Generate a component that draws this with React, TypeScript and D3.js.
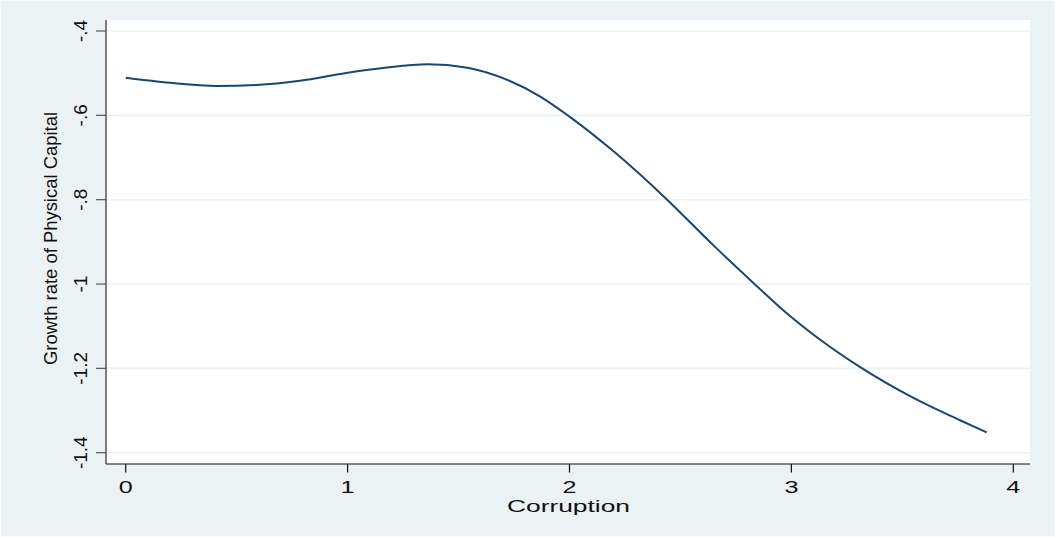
import React from "react";
import * as d3 from "d3";

const corruption = [0, 0.2, 0.41, 0.59, 0.785, 1.0, 1.16, 1.36, 1.54, 1.72, 1.87, 2.0, 2.2, 2.44, 2.65, 2.83, 2.95, 3.13, 3.31, 3.55, 3.76, 3.88];
const growth = [-0.511, -0.523, -0.5305, -0.528, -0.518, -0.499, -0.488, -0.479, -0.487, -0.516, -0.556, -0.603, -0.686, -0.8, -0.909, -0.998, -1.056, -1.132, -1.197, -1.27, -1.323, -1.352];
const xTicks = [0, 1, 2, 3, 4];
const xTickLabels = ["0", "1", "2", "3", "4"];
const yTicks = [-0.4, -0.6, -0.8, -1.0, -1.2, -1.4];
const yTickLabels = ["-.4", "-.6", "-.8", "-1", "-1.2", "-1.4"];
const xTitle = "Corruption";
const yTitle = "Growth rate of Physical Capital";

const W = 1055;
const H = 537;
const plot = { left: 106, right: 1030, top: 20, bottom: 464 };

export default function App() {
  const x = d3.scaleLinear().domain([0, 4]).range([125.7, 1013.3]);
  const y = d3.scaleLinear().domain([-1.4, -0.4]).range([452.7, 31]);
  const pts = corruption.map((c, i) => [c, growth[i]] as [number, number]);
  const line = d3
    .line<[number, number]>()
    .x((d) => x(d[0]))
    .y((d) => y(d[1]))
    .curve(d3.curveMonotoneX);
  const font = "'Liberation Sans', Arial, Helvetica, sans-serif";

  return (
    <svg
      width={W}
      height={H}
      style={{ position: "absolute", left: 0, top: 0, display: "block" }}
      fontFamily={font}
    >
      <rect x={0} y={0} width={W} height={H} fill="#EAF2F3" />
      <rect x={0.5} y={0.5} width={W - 1} height={H - 1} fill="none" stroke="#F6FAFA" strokeWidth={1} />
      <rect
        x={plot.left}
        y={plot.top}
        width={plot.right - plot.left}
        height={plot.bottom - plot.top}
        fill="#FFFFFF"
      />
      {yTicks.map((t) => (
        <line
          key={"g" + t}
          x1={plot.left}
          x2={plot.right}
          y1={y(t)}
          y2={y(t)}
          stroke="#EAF2F3"
          strokeWidth={1.6}
        />
      ))}
      <path d={line(pts) || ""} fill="none" stroke="#1A476F" strokeWidth={2} />
      <line x1={plot.left} x2={plot.left} y1={plot.top} y2={plot.bottom} stroke="#2a2a2a" strokeWidth={1.2} />
      <line x1={plot.left} x2={plot.right} y1={plot.bottom} y2={plot.bottom} stroke="#111" strokeWidth={1.2} />
      {yTicks.map((t, i) => (
        <g key={"yt" + t}>
          <line x1={96} x2={plot.left} y1={y(t)} y2={y(t)} stroke="#555" strokeWidth={1.2} />
          <text
            transform={`translate(87,${y(t)}) rotate(-90)`}
            textAnchor="middle"
            fontSize={19}
            fill="#111"
          >
            {yTickLabels[i]}
          </text>
        </g>
      ))}
      {xTicks.map((t, i) => (
        <g key={"xt" + t}>
          <line x1={x(t)} x2={x(t)} y1={plot.bottom} y2={472.5} stroke="#111" strokeWidth={1.2} />
          <text
            x={x(t)}
            y={493}
            textAnchor="middle"
            fontSize={16}
            fill="#111"
            textLength={14}
            lengthAdjust="spacingAndGlyphs"
          >
            {xTickLabels[i]}
          </text>
        </g>
      ))}
      <text
        x={568.5}
        y={512}
        textAnchor="middle"
        fontSize={16}
        fill="#111"
        textLength={123}
        lengthAdjust="spacingAndGlyphs"
      >
        {xTitle}
      </text>
      <text
        transform={`translate(56.5,238.5) rotate(-90)`}
        textAnchor="middle"
        fontSize={18}
        fill="#111"
        textLength={253}
        lengthAdjust="spacingAndGlyphs"
      >
        {yTitle}
      </text>
    </svg>
  );
}
